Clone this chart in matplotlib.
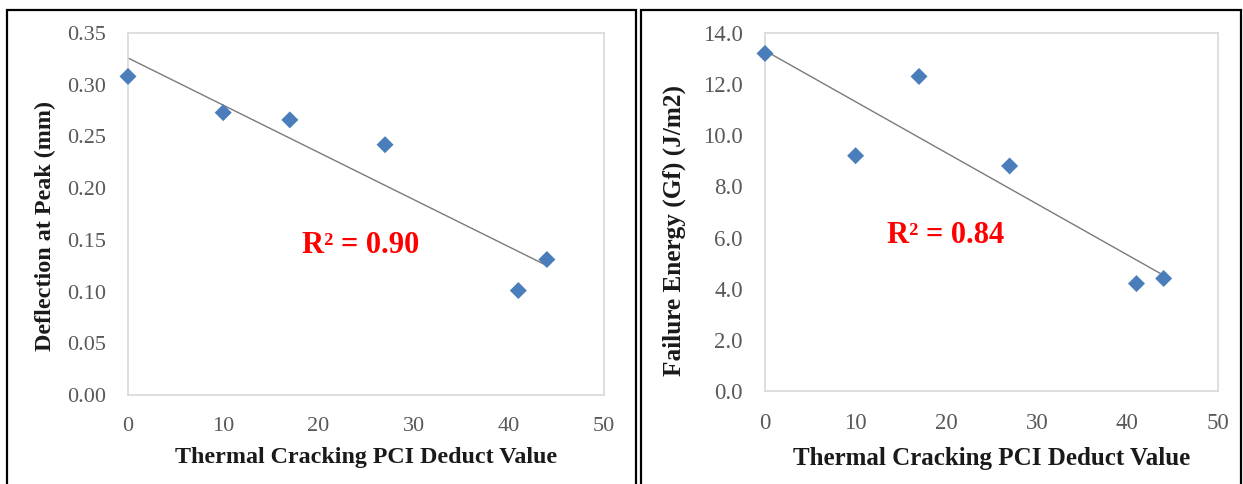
"""Two scatter panels with linear trendlines vs thermal cracking PCI deduct value."""
import matplotlib
matplotlib.use('Agg')
import matplotlib.pyplot as plt
import numpy as np
from matplotlib.patches import Rectangle

# Data
deduct_value = [0, 10, 17, 27, 41, 44]
deflection = [0.308, 0.273, 0.266, 0.242, 0.101, 0.131]
failure_energy = [13.2, 9.2, 12.3, 8.8, 4.2, 4.4]

x_ticks = [0, 10, 20, 30, 40, 50]
defl_ticks = [0.00, 0.05, 0.10, 0.15, 0.20, 0.25, 0.30, 0.35]
energy_ticks = [0.0, 2.0, 4.0, 6.0, 8.0, 10.0, 12.0, 14.0]

plt.rcParams['font.family'] = ['Liberation Serif', 'DejaVu Serif']

W, H = 1243, 484
fig = plt.figure(figsize=(W / 100, H / 100), dpi=100)
fig.patch.set_facecolor('white')

# panel borders
for x0, x1 in [(7, 636), (641, 1241)]:
    fig.patches.append(Rectangle((x0 / W, -0.05), (x1 - x0) / W, (H - 10) / H + 0.05,
                                 transform=fig.transFigure, fill=False,
                                 edgecolor='black', linewidth=1.6))


def panel(rect, y, yticks, fmt, ylabel, r2_text, r2_pos, xlab_y, ylab_xy,
          tick_fs, xlab_fs, ylab_fs):
    ax = fig.add_axes(rect)
    ax.scatter(deduct_value, y, marker='D', s=75, color='#4a7ebb', zorder=3,
               edgecolors='none', clip_on=False)
    # linear trendline over the data range
    k, b = np.polyfit(deduct_value, y, 1)
    xs = np.array([min(deduct_value), max(deduct_value)])
    ax.plot(xs, k * xs + b, color='#7a7a7a', linewidth=1.0, zorder=2)

    ax.set_xlim(0, 50)
    ax.set_ylim(yticks[0], yticks[-1])
    ax.set_xticks(x_ticks)
    ax.set_yticks(yticks)
    ax.set_yticklabels([fmt.format(v) for v in yticks])
    ax.tick_params(length=0, labelsize=tick_fs, colors='#595959')
    ax.tick_params(axis='y', pad=16)
    ax.tick_params(axis='x', pad=16)
    for s in ax.spines.values():
        s.set_color('#d9d9d9')
        s.set_linewidth(1.2)

    ax.set_xlabel('Thermal Cracking PCI Deduct Value', fontsize=xlab_fs,
                  fontweight='bold', color='#1a1a1a')
    ax.set_ylabel(ylabel, fontsize=ylab_fs, fontweight='bold', color='#1a1a1a')
    ax.xaxis.set_label_coords(0.5, xlab_y)
    ax.yaxis.set_label_coords(*ylab_xy)

    ax.text(r2_pos[0], r2_pos[1], r2_text, color='#ff0000', fontsize=22,
            fontweight='bold', ha='center', va='center')
    return ax


panel([128 / W, (H - 395) / H, 476 / W, 362 / H], deflection, defl_ticks,
      '{:.2f}', 'Deflection at Peak (mm)', 'R² = 0.90', (24.4, 0.145),
      -0.144, (-0.151, 0.467), 16, 17.3, 17.4)
panel([765 / W, (H - 391) / H, 453 / W, 358 / H], failure_energy, energy_ticks,
      '{:.1f}', 'Failure Energy (Gf) (J/m2)', 'R² = 0.84', (19.9, 6.1),
      -0.157, (-0.174, 0.447), 16.5, 18, 18.2)

plt.savefig('out.png', dpi=100, facecolor='white')
plt.close()
print("OK: out.png")
